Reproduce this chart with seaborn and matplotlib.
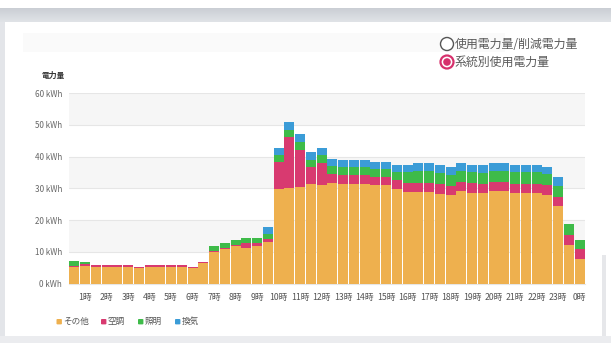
import numpy as np
import pandas as pd
import seaborn as sns
import matplotlib.pyplot as plt
from matplotlib.colors import LinearSegmentedColormap
from matplotlib.patches import Rectangle, Ellipse, FancyBboxPatch

# Half-hour slots (end of each 30-minute interval)
slots = ["0:30", "1:00", "1:30", "2:00", "2:30", "3:00", "3:30", "4:00",
         "4:30", "5:00", "5:30", "6:00", "6:30", "7:00", "7:30", "8:00",
         "8:30", "9:00", "9:30", "10:00", "10:30", "11:00", "11:30", "12:00",
         "12:30", "13:00", "13:30", "14:00", "14:30", "15:00", "15:30", "16:00",
         "16:30", "17:00", "17:30", "18:00", "18:30", "19:00", "19:30", "20:00",
         "20:30", "21:00", "21:30", "22:00", "22:30", "23:00", "23:30", "24:00"]

# Energy use per system (kWh)
other = [5.2, 5.6, 5.3, 5.3, 5.3, 5.3, 4.8, 5.3, 5.3, 5.3, 5.3, 4.8,
         6.3, 9.9, 10.9, 11.7, 11.3, 11.8, 13.1, 29.7, 30.0, 30.4, 31.4, 31.1,
         31.6, 31.3, 31.3, 31.3, 30.9, 30.9, 29.8, 28.7, 28.7, 28.7, 28.2, 27.9,
         29.0, 28.6, 28.5, 29.0, 29.0, 28.5, 28.5, 28.5, 27.9, 24.4, 12.1, 7.6]
aircon = [0.3, 0.4, 0.4, 0.4, 0.4, 0.4, 0.4, 0.4, 0.4, 0.4, 0.4, 0.3,
          0.4, 0.4, 0.4, 0.4, 1.3, 0.9, 0.9, 8.7, 16.1, 11.7, 5.2, 7.0,
          2.9, 2.9, 2.9, 2.9, 2.8, 2.8, 2.7, 2.9, 2.9, 2.9, 3.1, 2.9,
          2.9, 3.0, 2.8, 2.9, 2.9, 2.9, 2.9, 2.9, 3.0, 3.0, 3.1, 3.2]
lighting = [1.7, 0.8, 0.0, 0.0, 0.0, 0.0, 0.0, 0.0, 0.0, 0.0, 0.0, 0.0,
            0.0, 1.4, 1.4, 1.5, 1.7, 1.6, 1.5, 2.0, 2.4, 2.4, 2.4, 2.3,
            2.5, 2.4, 2.4, 2.4, 2.5, 2.5, 2.6, 3.4, 3.9, 3.9, 3.5, 3.5,
            3.6, 3.5, 3.5, 3.6, 3.6, 3.7, 3.7, 3.7, 3.5, 3.4, 3.5, 2.9]
ventilation = [0.0, 0.0, 0.0, 0.0, 0.0, 0.0, 0.0, 0.0, 0.0, 0.0, 0.0, 0.0,
               0.0, 0.0, 0.0, 0.0, 0.0, 0.0, 2.2, 2.4, 2.4, 2.6, 2.3, 2.4,
               2.3, 2.2, 2.2, 2.2, 2.2, 2.2, 2.3, 2.3, 2.4, 2.4, 2.4, 2.4,
               2.4, 2.3, 2.4, 2.4, 2.4, 2.3, 2.3, 2.3, 2.4, 2.6, 0.0, 0.0]

series = ["その他", "空調", "照明", "換気"]
colors = ["#EEB04E", "#D83A70", "#3EBB49", "#3B9CD7"]

tick_slots = ["1:00", "2:00", "3:00", "4:00", "5:00", "6:00", "7:00", "8:00",
              "9:00", "10:00", "11:00", "12:00", "13:00", "14:00", "15:00", "16:00",
              "17:00", "18:00", "19:00", "20:00", "21:00", "22:00", "23:00", "24:00"]
tick_labels = ["1時", "2時", "3時", "4時", "5時", "6時", "7時", "8時", "9時", "10時",
               "11時", "12時", "13時", "14時", "15時", "16時", "17時", "18時", "19時",
               "20時", "21時", "22時", "23時", "0時"]
y_ticks = [0, 10, 20, 30, 40, 50, 60]
y_tick_labels = ["0 kWh", "10 kWh", "20 kWh", "30 kWh", "40 kWh", "50 kWh", "60 kWh"]

sns.set_theme(style="white")
plt.rcParams["font.family"] = ["Noto Sans CJK JP", "DejaVu Sans"]

W, H = 611, 343
fig = plt.figure(figsize=(W / 100, H / 100), dpi=100)
fig.patch.set_facecolor("white")


def fx(x):
    return x / W


def fy(y):
    return 1 - y / H


def add_rect(x0, y0, x1, y1, color, z=0):
    fig.patches.append(Rectangle((fx(x0), fy(y1)), (x1 - x0) / W, (y1 - y0) / H,
                                 transform=fig.transFigure, facecolor=color,
                                 edgecolor="none", zorder=z))


# page chrome: grey header bar, left rail, right rail, bottom strip
grad = np.linspace(0, 1, 32).reshape(-1, 1)
hdr = fig.add_axes([0, fy(22), 1, (22 - 8) / H])
hdr.imshow(grad, aspect="auto", extent=[0, 1, 0, 1],
           cmap=LinearSegmentedColormap.from_list("hdr", ["#c9cdd3", "#e0e3e7"]))
hdr.axis("off")
add_rect(0, 22, 5, 343, "#e3e5e9")
add_rect(602, 255, 606, 343, "#e6e7ea")
add_rect(0, 336, 611, 343, "#ebecef")
add_rect(23, 33, 505, 52, "#fafafa")

# plot area
ax = fig.add_axes([fx(68.9), fy(283.5), 516 / W, (283.5 - 93) / H])
df = pd.DataFrame({"slot": slots, "その他": other, "空調": aircon,
                   "照明": lighting, "換気": ventilation})
stack = df[series].cumsum(axis=1)
stack["slot"] = df["slot"]

for name, color in reversed(list(zip(series, colors))):
    sns.barplot(data=stack, x="slot", y=name, order=slots, color=color,
                saturation=1, width=0.93, linewidth=0, errorbar=None, ax=ax, zorder=3)

ax.set_xlim(-0.5, len(slots) - 0.5)
ax.set_ylim(0, 60)
for lo in (10, 30, 50):
    ax.axhspan(lo, lo + 10, color="#f6f6f6", zorder=0, linewidth=0)
for yv in y_ticks[1:]:
    ax.axhline(yv, color="#e6e6e6", linewidth=0.8, zorder=1)

ax.set_yticks(y_ticks)
ax.set_yticklabels(y_tick_labels)
ax.set_xticks([slots.index(s) for s in tick_slots])
ax.set_xticklabels(tick_labels)
ax.tick_params(axis="y", length=0, pad=5, labelsize=5.8, labelcolor="#666666")
ax.tick_params(axis="x", length=3.5, width=0.6, color="#ccd6eb", pad=3,
               labelsize=6.3, labelcolor="#555555", direction="out")
ax.set_xlabel("")
ax.set_ylabel("")
for side in ("top", "right", "left"):
    ax.spines[side].set_visible(False)
ax.spines["bottom"].set_color("#e6e6e6")
ax.spines["bottom"].set_linewidth(0.8)
ax.set_facecolor("white")

fig.text(fx(42), fy(75), "電力量", fontsize=5.6, fontweight="bold", color="#333333",
         va="center", ha="left")


def add_circle(cx, cy, r, face, edge, lw):
    fig.patches.append(Ellipse((fx(cx), fy(cy)), 2 * r / W, 2 * r / H,
                               transform=fig.transFigure, facecolor=face,
                               edgecolor=edge, linewidth=lw, zorder=5))


# radio selector
add_circle(447, 44, 6.5, "white", "#555555", 1.0)
fig.text(fx(455), fy(44), "使用電力量/削減電力量", fontsize=8.6, color="#5a5a5a",
         va="center", ha="left")
add_circle(447, 62, 6.5, "white", "#d6306c", 1.6)
add_circle(447, 62, 3.8, "#d6306c", "none", 0)
fig.text(fx(455), fy(62), "系統別使用電力量", fontsize=8.6, color="#5a5a5a",
         va="center", ha="left")

# legend
legend_x = [56.5, 101, 138, 175]
for name, color, lx in zip(series, colors, legend_x):
    fig.patches.append(FancyBboxPatch((fx(lx), fy(324.4)), 5.4 / W, 5.4 / H,
                                      boxstyle="round,pad=0,rounding_size=0.002",
                                      transform=fig.transFigure,
                                      facecolor=color, edgecolor="none"))
    fig.text(fx(lx + 7), fy(321.7), name, fontsize=6.2, color="#555555",
             va="center", ha="left")

fig.savefig("out.png", dpi=100)
